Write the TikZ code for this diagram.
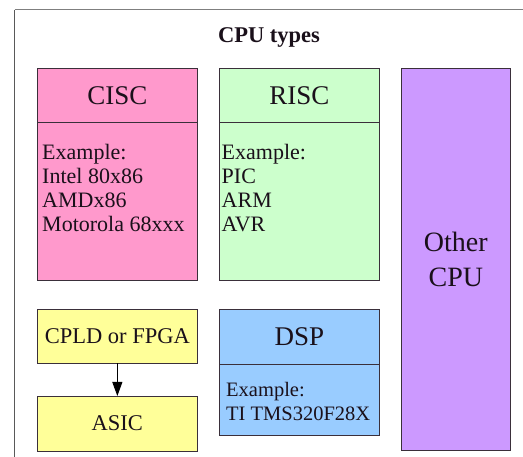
\documentclass[tikz,border=0pt]{standalone}
\usepackage{fontspec}
\setmainfont{Liberation Serif}
\usetikzlibrary{arrows.meta}
\definecolor{ciscfill}{HTML}{FF99CC}
\definecolor{riscfill}{HTML}{CCFFCC}
\definecolor{otherfill}{HTML}{CC99FF}
\definecolor{yelfill}{HTML}{FFFF99}
\definecolor{dspfill}{HTML}{99CCFF}
\definecolor{edge}{HTML}{3A2F3A}
\definecolor{txt}{HTML}{1A101A}
\definecolor{frameg}{HTML}{7F7F7F}
\tikzset{
  box/.style={draw=edge, line width=0.9pt, inner sep=0pt, outer sep=0pt, anchor=north west, text=txt},
  titlefont/.style={font=\fontsize{27}{29}\selectfont},
  bodyfont/.style={font=\fontsize{22}{24}\selectfont},
  midfont/.style={font=\fontsize{22.5}{24}\selectfont},
  bodytext/.style={bodyfont, align=left, anchor=north west, inner sep=0pt, text=txt},
  frameline/.style={draw=frameg, line width=1pt},
}
\begin{document}
\begin{tikzpicture}[x=1pt,y=-1pt]
\useasboundingbox (0,0) rectangle (523,457);
% frame
\coordinate (ftl) at (14.5,10);
\coordinate (ftr) at (523,10);
\coordinate (fbl) at (14.5,457);
\draw[frameline] (ftl) -- (ftr);
\draw[frameline, line width=1.8pt, draw=black!65] (ftl) -- (fbl);
\node[font=\bfseries\fontsize{22.5}{24}\selectfont, text=txt, anchor=base] (title) at (269,43) {CPU types};
% CISC
\node[box, fill=ciscfill, titlefont, minimum width=159.3pt, minimum height=54.4pt] (cisct) at (37.7,68.3) {CISC};
\node[box, fill=ciscfill, minimum width=159.3pt, minimum height=157.3pt] (ciscb) at (37.7,122.7) {};
\node[bodytext] (ciscx) at (42,144.5) {Example:\\Intel 80x86\\AMDx86\\Motorola 68xxx};
% RISC
\node[box, fill=riscfill, titlefont, minimum width=160pt, minimum height=54.4pt] (risct) at (219.3,68.3) {RISC};
\node[box, fill=riscfill, minimum width=160pt, minimum height=157.3pt] (riscb) at (219.3,122.7) {};
\node[bodytext] (riscx) at (221.5,144.5) {Example:\\PIC\\ARM\\AVR};
% Other CPU
\node[box, fill=otherfill, minimum width=109.7pt, minimum height=381.7pt, align=center, font=\fontsize{28}{35}\selectfont] (other) at (401,68.3) {Other\\CPU};
% CPLD / ASIC
\node[box, fill=yelfill, midfont, minimum width=159.3pt, minimum height=54pt] (cpld) at (37.7,309.3) {CPLD or FPGA};
\node[box, fill=yelfill, midfont, minimum width=159.3pt, minimum height=55pt] (asic) at (37.7,396) {ASIC};
\draw[line width=0.9pt, -{Triangle[length=14pt,width=10pt]}] (cpld.south) -- (asic.north);
% DSP
\node[box, fill=dspfill, titlefont, minimum width=160pt, minimum height=55pt] (dspt) at (219.3,309) {DSP};
\node[box, fill=dspfill, minimum width=160pt, minimum height=71.7pt] (dspb) at (219.3,364) {};
\node[bodytext, font=\fontsize{20.5}{23.5}\selectfont] (dspx) at (226,382.5) {Example:\\TI TMS320F28X};
\end{tikzpicture}
\end{document}
